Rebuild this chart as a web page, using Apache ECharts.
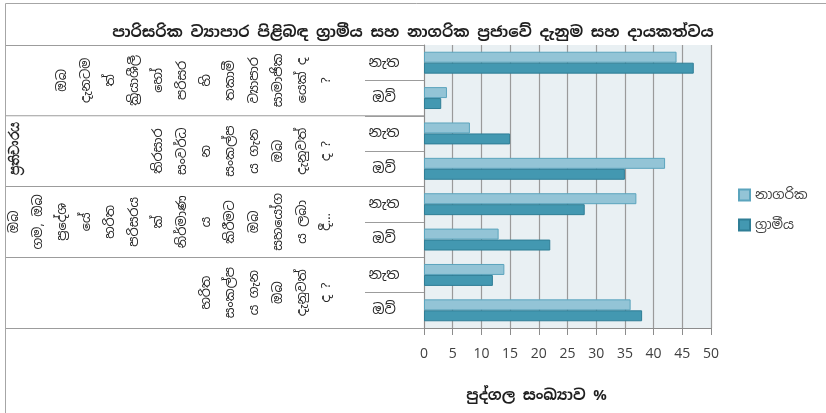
<!DOCTYPE html>
<html>
<head>
<meta charset="utf-8">
<script src="https://cdn.jsdelivr.net/npm/echarts@6/dist/echarts.min.js"></script>
<style>html,body{margin:0;padding:0;background:#fff}#c{width:826px;height:413px}</style>
</head>
<body>
<div id="c"></div>
<script>
var titleText = 'පාරිසරික ව්‍යාපාර පිළිබඳ ග්‍රාමීය සහ නාගරික ප්‍රජාවේ දැනුම සහ දායකත්වය';
var responseLabels = ['නැත', 'ඔව්'];
var groupLines = [
  ['ඔබ', 'දැනටම', 'ත්', 'ක්‍රියාශීලී', 'හෝ', 'පරිසර', 'හි', 'තකාමී', 'ව්‍යාපාර', 'සාමාජික', 'යෙක් ද', '?'],
  ['තිරසාර', 'සංවර්ධ', 'න', 'සංකල්ප', 'ය ගැන', 'ඔබ', 'දැනුවත්', 'ද ?'],
  ['ඔබ', 'ගම, ඔබ', 'ප්‍රදේශ', 'යේ', 'හරිත', 'පරිසරය', 'ක්', 'නිර්මාණ', 'ය', 'කිරීමට', 'ඔබ', 'සහයෝග', 'ය ලබා', 'දී…'],
  ['හරිත', 'සංකල්ප', 'ය ගැන', 'ඔබ', 'දැනුවත්', 'ද ?']
];
var outerLabel = 'ප්‍රතිචාරය';
var categories = ['නැත', 'ඔව්', 'නැත', 'ඔව්', 'නැත', 'ඔව්', 'නැත', 'ඔව්'];
var urbanName = 'නාගරික';
var ruralName = 'ග්‍රාමීය';
var urbanValues = [44, 4, 8, 42, 37, 13, 14, 36];
var ruralValues = [47, 3, 15, 35, 28, 22, 12, 38];
var xTicks = {min: 0, max: 50, interval: 5};
var xName = 'පුද්ගල සංඛ්‍යාව %';

var FONT = '"Noto Sans Sinhala", "Iskoola Pota", "Noto Sans", "DejaVu Sans", sans-serif';
var chart = echarts.init(document.getElementById('c'));
var groupNames = groupLines.map(function (l) { return l.join('\n'); });

chart.setOption({
  animation: false,
  backgroundColor: '#ffffff',
  textStyle: {fontFamily: FONT},
  title: {
    text: titleText, left: 'center', top: 20,
    textStyle: {fontSize: 15.5, fontWeight: 'bold', color: '#1f1f1f', fontFamily: FONT}
  },
  legend: {
    orient: 'vertical', left: 733, top: 183, itemGap: 16,
    itemWidth: 11, itemHeight: 11, icon: 'rect',
    data: [urbanName, ruralName],
    textStyle: {fontSize: 13.5, color: '#404040', fontFamily: FONT}
  },
  grid: {
    left: 424, top: 45, width: 287, height: 283,
    show: true, backgroundColor: '#e9f0f3', borderWidth: 0
  },
  xAxis: {
    type: 'value', min: xTicks.min, max: xTicks.max, interval: xTicks.interval,
    axisLine: {show: true, lineStyle: {color: '#8c8c8c', width: 1}},
    axisTick: {show: true, length: 7, lineStyle: {color: '#8c8c8c'}},
    axisLabel: {margin: 19, fontSize: 14, color: '#404040', fontFamily: '"Open Sans", "Noto Sans", sans-serif'},
    splitLine: {show: true, lineStyle: {color: '#9a9a9a', width: 1.2}},
    name: xName, nameLocation: 'middle', nameGap: 60,
    nameTextStyle: {fontSize: 15, fontWeight: 'bold', color: '#1f1f1f', padding: [0, 62, 0, 0], fontFamily: FONT}
  },
  yAxis: [{
    type: 'category', data: categories, inverse: true,
    axisLine: {show: true, lineStyle: {color: '#8c8c8c'}},
    axisTick: {show: true, interval: 0, length: 59, lineStyle: {color: '#9c9c9c'}},
    axisLabel: {interval: 0, margin: 40, align: 'center', fontSize: 14, color: '#262626', fontFamily: FONT}
  }, {
    type: 'category', data: groupNames, inverse: true, position: 'left',
    axisLine: {show: false},
    axisTick: {show: true, interval: 0, length: 419, lineStyle: {color: '#9c9c9c'}},
    axisLabel: {interval: 0, margin: 86, rotate: 90, fontSize: 13, lineHeight: 24, color: '#262626', fontFamily: FONT}
  }],
  series: [{
    name: urbanName, type: 'bar', yAxisIndex: 0, data: urbanValues,
    barGap: '0%', barCategoryGap: '38%',
    itemStyle: {color: '#93c4d6', borderColor: '#5ba4bd', borderWidth: 1}
  }, {
    name: ruralName, type: 'bar', yAxisIndex: 0, data: ruralValues,
    barGap: '0%', barCategoryGap: '38%',
    itemStyle: {color: '#4398b1', borderColor: '#2f7e96', borderWidth: 1}
  }],
  graphic: [{
    type: 'rect', silent: true, z: 100,
    shape: {x: 5.5, y: 3.5, width: 830, height: 430},
    style: {fill: 'none', stroke: '#a6a6a6', lineWidth: 1}
  }, {
    type: 'text', x: 15, y: 148, rotation: Math.PI / 2, z: 100,
    style: {text: outerLabel, align: 'center', verticalAlign: 'middle', fontSize: 14, fontWeight: 'bold', fill: '#262626', font: 'bold 14px ' + FONT}
  }]
});
</script>
</body>
</html>
